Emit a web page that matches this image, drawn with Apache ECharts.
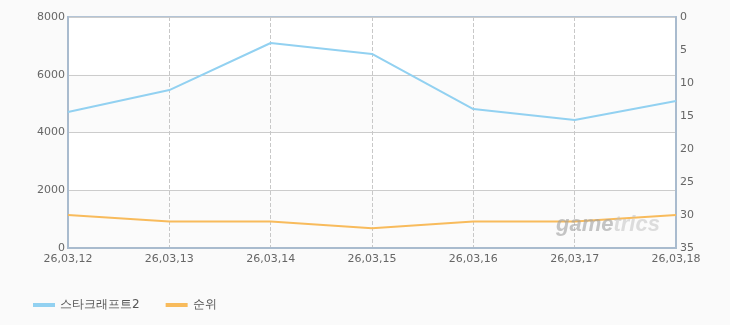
<!DOCTYPE html>
<html><head><meta charset="utf-8">
<script src="https://cdn.jsdelivr.net/npm/echarts@6/dist/echarts.min.js"></script>
<style>html,body{margin:0;padding:0;background:#fafafa;}#c{width:730px;height:325px;}</style>
</head><body><div id="c"></div>
<script>
const categories = ['26,03,12','26,03,13','26,03,14','26,03,15','26,03,16','26,03,17','26,03,18'];
const viewers = [4710, 5470, 7100, 6720, 4810, 4430, 5090];
const rank = [30, 31, 31, 32, 31, 31, 30];
const leftTicks = {min: 0, max: 8000, interval: 2000};
const rightTicks = {min: 0, max: 35, interval: 5};

const chart = echarts.init(document.getElementById('c'));
const font = 'DejaVu Sans, sans-serif';
chart.setOption({
  backgroundColor: '#fafafa',
  animation: false,
  grid: {left: 68, right: 54, top: 17, bottom: 77, show: true, borderColor: '#b3c4d6', borderWidth: 2, backgroundColor: '#fdfdfd'},
  legend: {
    left: 28, top: 294, itemWidth: 22, itemHeight: 4, itemGap: 26,
    icon: 'rect',
    textStyle: {fontFamily: font, fontSize: 12, color: '#555'},
    data: [{name: '스타크래프트2', icon: 'rect', itemStyle: {color: '#92d1f1'}}, {name: '순위', icon: 'rect', itemStyle: {color: '#f8bb5c'}}]
  },
  xAxis: {
    type: 'category', data: categories, boundaryGap: false,
    axisLine: {show: true, lineStyle: {color: '#a9bbce', width: 2}},
    axisTick: {show: false},
    axisLabel: {fontFamily: font, fontSize: 11, color: '#666', margin: 6, showMinLabel: true, showMaxLabel: true, interval: 0},
    splitLine: {show: true, lineStyle: {color: '#c8c8c8', type: 'dashed', width: 1}}
  },
  yAxis: [{
    type: 'value', min: leftTicks.min, max: leftTicks.max, interval: leftTicks.interval,
    axisLine: {show: true, lineStyle: {color: '#a9bbce', width: 2}},
    axisTick: {show: false},
    axisLabel: {fontFamily: font, fontSize: 11, color: '#666', margin: 3, formatter: v => String(v)},
    splitLine: {show: true, lineStyle: {color: '#cccccc', width: 1}},
    splitArea: {show: true, areaStyle: {color: ['#fbfbfb', '#ffffff']}}
  }, {
    type: 'value', min: rightTicks.min, max: rightTicks.max, interval: rightTicks.interval, inverse: true,
    position: 'right',
    axisLine: {show: true, lineStyle: {color: '#a9bbce', width: 2}},
    axisTick: {show: false},
    axisLabel: {fontFamily: font, fontSize: 11, color: '#666', margin: 4},
    splitLine: {show: false}
  }],
  series: [{
    name: '스타크래프트2', type: 'line', data: viewers, yAxisIndex: 0,
    symbol: 'none', lineStyle: {color: '#92d1f1', width: 2}, itemStyle: {color: '#92d1f1'}
  }, {
    name: '순위', type: 'line', data: rank, yAxisIndex: 1,
    symbol: 'none', lineStyle: {color: '#f8bb5c', width: 2}, itemStyle: {color: '#f8bb5c'}
  }],
  graphic: [{
    type: 'text', left: 556, top: 214, z: 100,
    style: {
      text: '{a|game}{b|trics}',
      rich: {
        a: {font: 'italic bold 22px "Liberation Sans", sans-serif', fill: 'rgba(160,160,160,0.6)'},
        b: {font: 'italic bold 22px "Liberation Sans", sans-serif', fill: 'rgba(190,190,190,0.5)'}
      }
    }
  }]
});
</script></body></html>
